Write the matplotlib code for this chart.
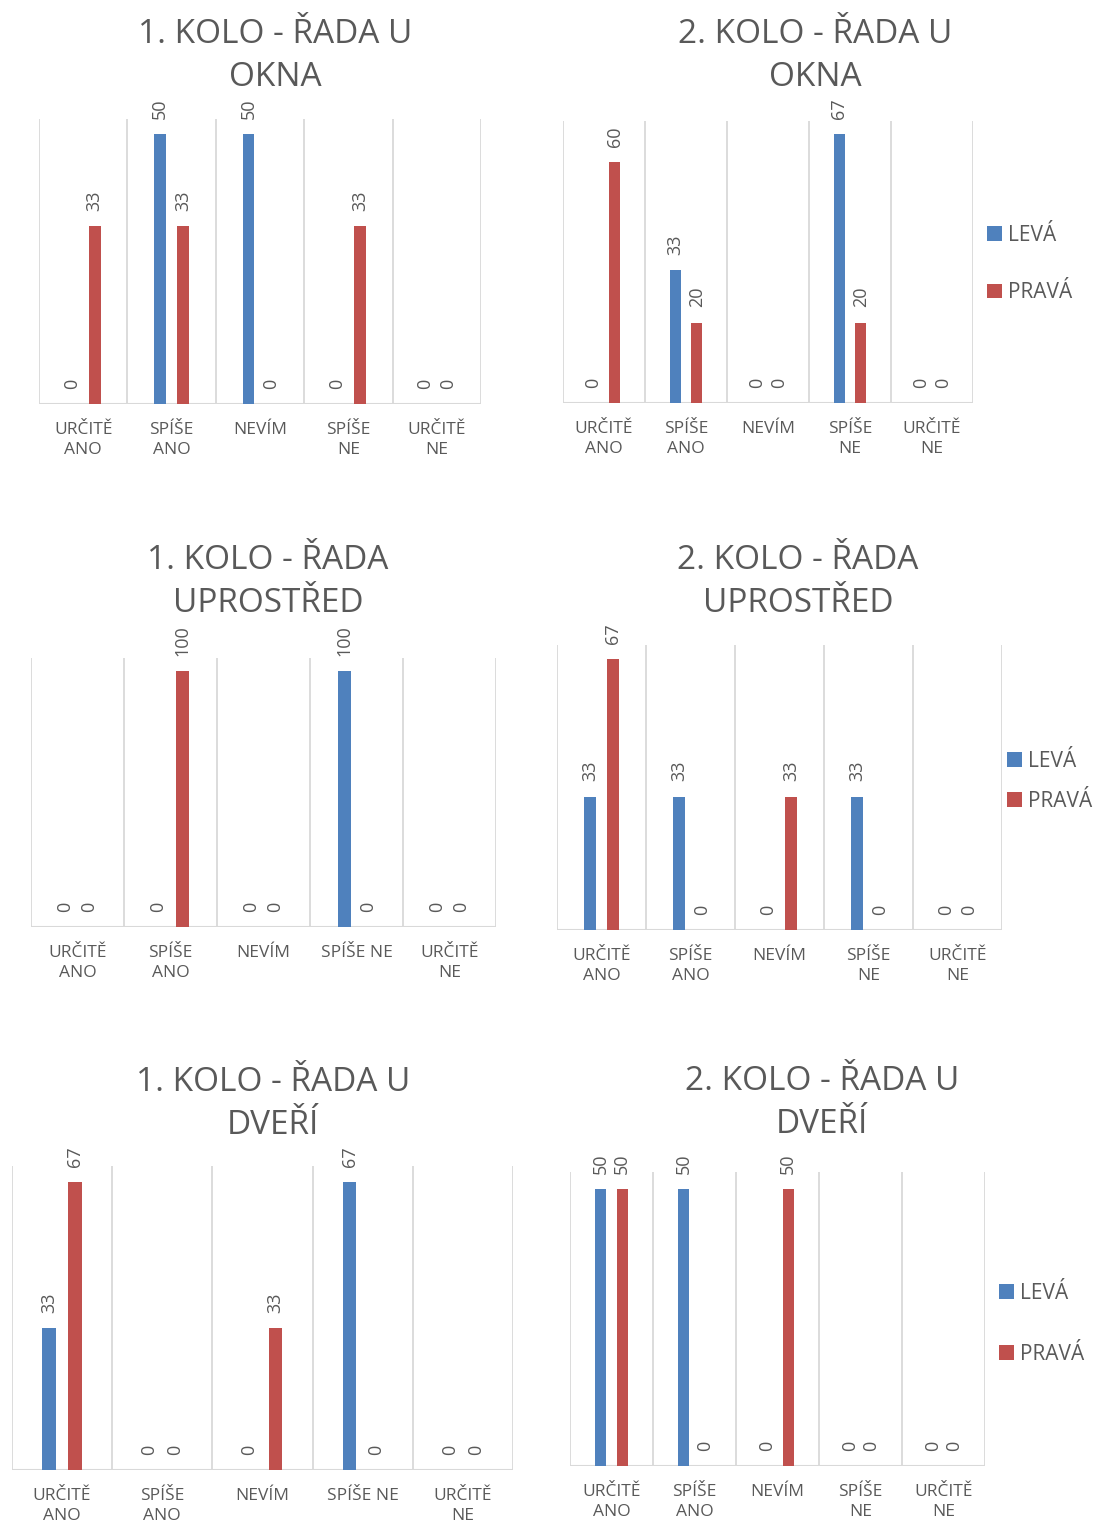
import numpy as np
import matplotlib.pyplot as plt

W, H = 1096, 1524
plt.rcParams['font.family'] = ['Open Sans', 'DejaVu Sans']

# categories / tick labels
kat_dlouhe = ['URČITĚ\nANO', 'SPÍŠE\nANO', 'NEVÍM', 'SPÍŠE\nNE', 'URČITĚ\nNE']
kat_kratke = ['URČITĚ\nANO', 'SPÍŠE\nANO', 'NEVÍM', 'SPÍŠE NE', 'URČITĚ\nNE']
serie = ['LEVÁ', 'PRAVÁ']

# values per chart
okno1_leva = [0, 50, 50, 0, 0]
okno1_prava = [33, 33, 0, 33, 0]
okno2_leva = [0, 33, 0, 67, 0]
okno2_prava = [60, 20, 0, 20, 0]
stred1_leva = [0, 0, 0, 100, 0]
stred1_prava = [0, 100, 0, 0, 0]
stred2_leva = [33, 33, 0, 33, 0]
stred2_prava = [67, 0, 33, 0, 0]
dvere1_leva = [33, 0, 0, 67, 0]
dvere1_prava = [67, 0, 33, 0, 0]
dvere2_leva = [50, 50, 0, 0, 0]
dvere2_prava = [50, 0, 50, 0, 0]

titulky = ['1. KOLO - ŘADA U\nOKNA', '2. KOLO - ŘADA U\nOKNA',
           '1. KOLO - ŘADA\nUPROSTŘED', '2. KOLO - ŘADA\nUPROSTŘED',
           '1. KOLO - ŘADA U\nDVEŘÍ', '2. KOLO - ŘADA U\nDVEŘÍ']

BLUE = '#4F81BD'
RED = '#C0504D'
GRAY = '#595959'
GRID = '#D9D9D9'

fig = plt.figure(figsize=(W / 100, H / 100), dpi=100)


def rect(x0, x1, ytop, ybase):
    return [x0 / W, 1 - ybase / H, (x1 - x0) / W, (ybase - ytop) / H]


# (plot box px, ymax, title center x, title top y, labels, legend pos, legend spacing)
panely = [
    ((39, 481, 119, 404), 52.8, 275, 18, kat_dlouhe, None, None),
    ((563, 973, 121, 403), 70.2, 815, 18, kat_dlouhe, (987, 225), 1.75),
    ((31, 496, 658, 927), 105.1, 268, 544, kat_kratke, None, None),
    ((557, 1002, 645, 930), 70.5, 798, 544, kat_dlouhe, (1007, 751), 0.9),
    ((12, 513, 1166, 1470), 70.7, 273, 1066, kat_kratke, None, None),
    ((570, 985, 1172, 1466), 53.1, 822, 1065, kat_dlouhe, (999, 1283), 1.9),
]
data = [(okno1_leva, okno1_prava), (okno2_leva, okno2_prava),
        (stred1_leva, stred1_prava), (stred2_leva, stred2_prava),
        (dvere1_leva, dvere1_prava), (dvere2_leva, dvere2_prava)]

x = np.arange(5)
sirka = 0.135
posun = 0.13

for i, (box, ymax, tx, ty, labels, leg, lsp) in enumerate(panely):
    x0, x1, ytop, ybase = box
    ax = fig.add_axes(rect(x0, x1, ytop, ybase))
    leva, prava = data[i]
    b1 = ax.bar(x - posun, leva, sirka, color=BLUE, label=serie[0], zorder=3)
    b2 = ax.bar(x + posun, prava, sirka, color=RED, label=serie[1], zorder=3)
    for xs, vals in ((x - posun, leva), (x + posun, prava)):
        for xi, v in zip(xs, vals):
            ax.annotate(str(v), (xi, v), xytext=(0, 11), textcoords='offset points',
                        rotation=90, ha='center', va='bottom', fontsize=13, color=GRAY)
    ax.set_xlim(-0.5, 4.5)
    ax.set_ylim(0, ymax)
    ax.vlines(np.arange(-0.5, 5, 1), 0, ymax, color=GRID, lw=1.3, zorder=1)
    ax.axhline(0, color=GRID, lw=1.5, zorder=2)
    for s in ax.spines.values():
        s.set_visible(False)
    ax.set_yticks([])
    ax.set_xticks(x)
    ax.set_xticklabels(labels, fontsize=12.5, color=GRAY, linespacing=1.3)
    ax.tick_params(axis='x', length=0, pad=13)
    fig.text(tx / W, 1 - ty / H, titulky[i], ha='center', va='top',
             fontsize=24, color=GRAY, linespacing=1.4)
    if leg is not None:
        ax.legend(handles=[b1, b2], loc='upper left',
                  bbox_to_anchor=(leg[0] / W, 1 - leg[1] / H),
                  bbox_transform=fig.transFigure, frameon=False,
                  fontsize=15, labelcolor=GRAY, handlelength=0.7,
                  handleheight=0.7, handletextpad=0.3, labelspacing=lsp,
                  borderpad=0, borderaxespad=0)

fig.savefig('out.png', dpi=100)
